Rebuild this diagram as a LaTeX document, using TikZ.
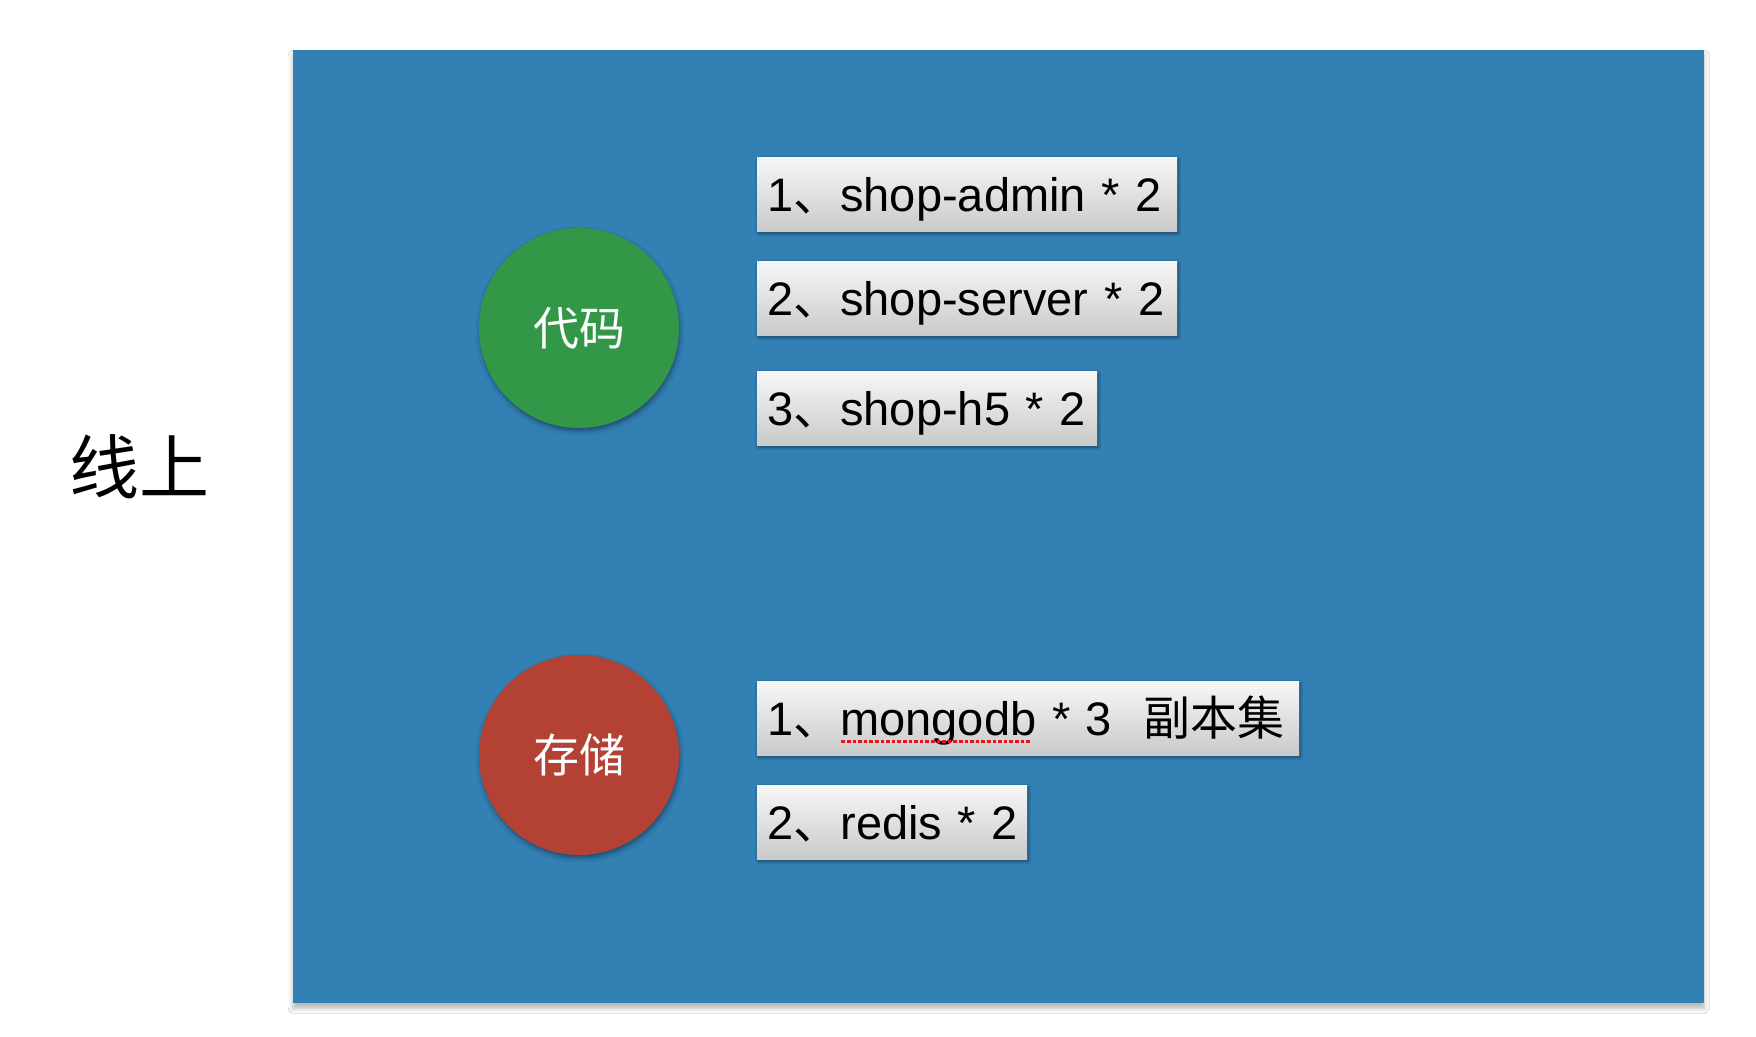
\documentclass[tikz,border=0pt]{standalone}
\usepackage{fontspec}
\setmainfont{Liberation Sans}
\newfontfamily\cjk{Noto Sans CJK SC}
\usetikzlibrary{shadows.blur}
\definecolor{bgblue}{RGB}{50,128,180}
\definecolor{dotgreen}{RGB}{50,152,72}
\definecolor{dotred}{RGB}{180,66,52}
\definecolor{spellred}{RGB}{232,20,24}
\tikzset{
  panel/.style={fill=bgblue, draw=none,
     blur shadow={shadow xshift=0pt, shadow yshift=-5pt, shadow blur radius=5pt, shadow opacity=30}},
  dot/.style={circle, minimum size=200pt, inner sep=0pt, text=white,
     font=\cjk\fontsize{46}{50}\selectfont,
     blur shadow={shadow xshift=1pt, shadow yshift=-3pt, shadow blur radius=4pt, shadow opacity=40}},
  itembox/.style={rectangle, anchor=north west, minimum height=74pt, inner xsep=10pt, inner ysep=0pt,
     text height=54pt, text depth=20pt,
     top color=white!97!black, bottom color=black!21, draw=none, align=left,
     font=\fontsize{47}{51}\selectfont,
     blur shadow={shadow xshift=1pt, shadow yshift=-2pt, shadow blur radius=2.5pt, shadow opacity=45}},
}
\newcommand{\dun}{{\cjk 、}}
\newsavebox\spellbox
\newcommand{\spell}[1]{\sbox\spellbox{#1}\usebox\spellbox\llap{\raisebox{-8pt}{\color{spellred}\leaders\hbox to 5.6pt{\hss\rule{3.6pt}{3.4pt}\hss}\hskip\wd\spellbox}}}
\begin{document}
\begin{tikzpicture}[x=1pt,y=-1pt]
\useasboundingbox (0,0) rectangle (1756,1036);
\fill[white] (0,0) rectangle (1756,1036);
\node[panel, anchor=north west, minimum width=1411pt, minimum height=953pt, inner sep=0pt] (panel) at (293,50) {};
\node[font=\cjk\fontsize{70}{74}\selectfont, text=black] (title) at (139.5,467) {线上};
\node[dot, fill=dotgreen] (code) at (579,328) {代码};
\node[dot, fill=dotred] (store) at (579,755) {存储};
\node[itembox, text width=400pt] (a1) at (757,157) {\mbox{1\dun shop-admin * 2}};
\node[itembox, text width=400pt] (a2) at (757,261) {\mbox{2\dun shop-server * 2}};
\node[itembox, text width=320pt] (a3) at (757,371) {\mbox{3\dun shop-h5 * 2}};
\node[itembox, text width=522pt] (b1) at (757,681) {\mbox{1\dun \spell{mongodb} * 3\ \ {\cjk 副本集}}};
\node[itembox, text width=250pt] (b2) at (757,785) {\mbox{2\dun redis * 2}};
\end{tikzpicture}
\end{document}
